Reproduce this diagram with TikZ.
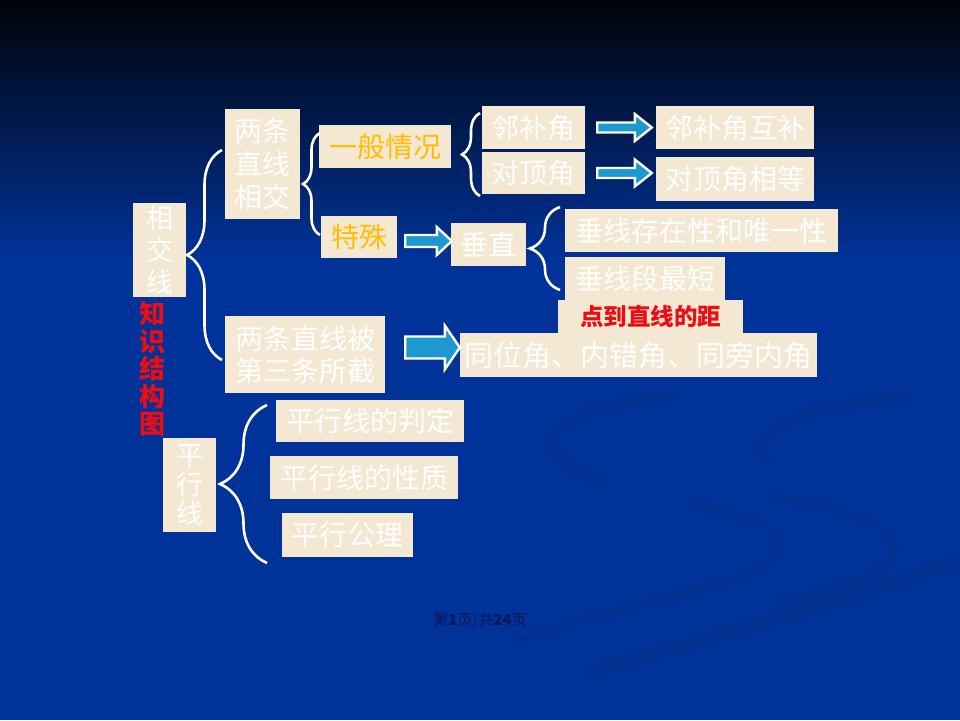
\documentclass[tikz,border=0pt]{standalone}
\usepackage{fontspec}
\setmainfont{Noto Sans CJK SC}
\usetikzlibrary{calc}
\usetikzlibrary{decorations.pathreplacing}

\definecolor{bgblue}{RGB}{0,51,153}
\definecolor{bgtop}{RGB}{0,3,8}
\definecolor{bgmid}{RGB}{4,36,110}
\definecolor{cream}{RGB}{244,232,210}
\definecolor{gold}{RGB}{255,190,0}
\definecolor{arrblue}{RGB}{28,154,208}
\definecolor{hired}{RGB}{235,12,20}
\definecolor{footc}{RGB}{10,24,80}

\tikzset{
  box/.style={fill=cream, text=white, inner sep=0pt, align=center, font=\fontsize{28}{33}\selectfont},
  goldbox/.style={box, text=gold},
  brc/.style={draw=white, line width=2.6, decorate, decoration={brace, amplitude=#1}},
  fatarr/.style={fill=arrblue, draw=white, line width=2.4, line join=miter},
  swirl/.style={draw=black, opacity=0.06, line cap=round},
}

% from, to, start gap, end gap, half body, half head, head length
\newcommand{\fatarrow}[7]{%
  \path (#1) ++(#3,0) coordinate (fa-s);
  \path (fa-s -| #2) ++({-(#4)},0) coordinate (fa-e);
  \draw[fatarr] ($(fa-s)+(0,{#5})$) -- ($(fa-e)+({-(#7)},{#5})$) -- ($(fa-e)+({-(#7)},{#6})$) -- (fa-e)
    -- ($(fa-e)+({-(#7)},{-(#6)})$) -- ($(fa-e)+({-(#7)},{-(#5)})$) -- ($(fa-s)+(0,{-(#5)})$) -- cycle;}

\begin{document}
\begin{tikzpicture}[x=1pt,y=1pt,yscale=-1,xscale=1]
\useasboundingbox (0,0) rectangle (960,720);

%Background
\fill[bgblue] (0,0) rectangle (960,720);
\shade[top color=bgtop, middle color=bgmid, bottom color=bgblue] (0,0) rectangle (960,260);
%Swirls
\draw[swirl, line width=12] (675,397) .. controls (600,400) and (535,425) .. (558,455) .. controls (568,470) and (588,478) .. (600,482);
\draw[swirl, line width=12] (905,398) .. controls (830,402) and (745,425) .. (765,458);
\draw[swirl, line width=10] (690,505) .. controls (780,518) and (805,550) .. (745,575) .. controls (690,596) and (600,612) .. (520,640);
\draw[swirl, line width=10] (775,497) .. controls (870,510) and (925,545) .. (875,572) .. controls (850,585) and (815,595) .. (780,602);
\draw[swirl, line width=14] (958,562) .. controls (850,600) and (700,640) .. (590,672);

% Text Node
\node[box, minimum width=53, minimum height=94, font=\fontsize{27}{32}\selectfont] (xjx) at (159.5,250) {相\\交\\线};
\node[text=hired, font=\bfseries\fontsize{26}{27.5}\selectfont, align=center, inner sep=0pt] (zsjg) at (152,369) {知\\识\\结\\构\\图};
\node[box, minimum width=75, minimum height=110] (ltxj) at (262.5,164) {两条\\直线\\相交};
\node[goldbox, minimum width=132, minimum height=43] (ybqk) at (385,146.5) {一般情况};
\node[goldbox, minimum width=76, minimum height=42] (tesu) at (359,237) {特殊};
\node[box, minimum width=75, minimum height=43] (chz) at (488.5,244.5) {垂直};
\node[box, minimum width=103, minimum height=43] (lbj) at (533.5,127.5) {邻补角};
\node[box, minimum width=103, minimum height=42] (dxj) at (533.5,173) {对顶角};
\node[box, minimum width=158, minimum height=43] (lbjh) at (735,127.5) {邻补角互补};
\node[box, minimum width=158, minimum height=44] (dxjd) at (735,179) {对顶角相等};
\node[box, minimum width=273, minimum height=43] (czwy) at (701.5,230.5) {垂线存在性和唯一性};
\node[box, minimum width=160, minimum height=43] (czdz) at (645,278.5) {垂线段最短};
\node[box, text=hired, font=\bfseries\fontsize{23.5}{26}\selectfont, minimum width=185, minimum height=33] (djl) at (650.5,316.5) {点到直线的距};
\node[box, font=\fontsize{29}{33}\selectfont, minimum width=357, minimum height=44] (twj) at (638.5,355) {同位角、内错角、同旁内角};
\node[box, minimum width=160, minimum height=77, font=\fontsize{28}{32}\selectfont] (ltbj) at (305,354.5) {两条直线被\\第三条所截};
\node[box, minimum width=53, minimum height=94, font=\fontsize{27}{29}\selectfont] (pxx) at (189.5,485) {平\\行\\线};
\node[box, minimum width=188, minimum height=42] (pxpd) at (370,421) {平行线的判定};
\node[box, minimum width=188, minimum height=43] (pxxz) at (364,477.5) {平行线的性质};
\node[box, minimum width=131, minimum height=44] (pxgl) at (347.5,535) {平行公理};
\node[text=footc, font=\fontsize{15}{17}\selectfont, inner sep=0pt] (foot) at (480,620) {第\textbf{1}页/共\textbf{24}页};

%Braces
\coordinate (b1a) at (222,360); \coordinate (b1b) at (222,150);
\coordinate (b2a) at (320,235); \coordinate (b2b) at (320,133);
\coordinate (b3a) at (480,196); \coordinate (b3b) at (480,113);
\coordinate (b4a) at (560,290); \coordinate (b4b) at (560,207);
\coordinate (b5a) at (267,563); \coordinate (b5b) at (267,405);
\draw[brc=35] (b1a) -- (b1b);
\draw[brc=17] (b2a) -- (b2b);
\draw[brc=18] (b3a) -- (b3b);
\draw[brc=30] (b4a) -- (b4b);
\draw[brc=47] (b5a) -- (b5b);

%Block arrows
\fatarrow{lbj.east}{lbjh.west}{12}{4}{5}{13.5}{17}
\fatarrow{dxj.east}{dxjd.west}{12}{4}{5}{13.5}{17}
\fatarrow{$(tesu.east)+(0,4)$}{chz.west}{8}{-1}{6}{14}{15}
\fatarrow{$(ltbj.east)+(0,-7)$}{twj.west}{20}{0}{11}{22}{15}

\end{tikzpicture}
\end{document}
